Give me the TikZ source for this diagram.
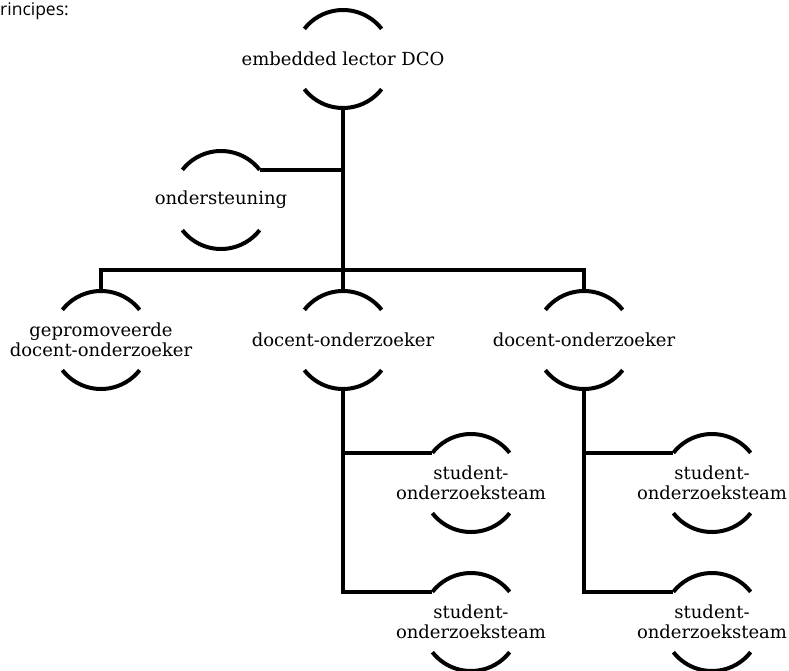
\documentclass[tikz,border=0pt]{standalone}
\usepackage{fontspec}
\setmainfont{DejaVu Serif}
\newfontfamily\hdrfont{Open Sans}
\begin{document}
\begin{tikzpicture}[x=1pt,y=1pt,
  unit/.style={inner sep=0pt, outer sep=0pt, align=center, font=\fontsize{18}{20}\selectfont},
  arcline/.style={line width=4pt},
  conn/.style={line width=4.5pt, line join=miter}]
\useasboundingbox (0,0) rectangle (789,-671);
\node[anchor=base west, inner sep=0pt, font=\hdrfont\fontsize{17.5}{20}\selectfont] (hdr) at (0,-16) {rincipes:};
\node[unit] (lector) at (343,-59) {embedded lector DCO};
\node[unit] (ond) at (221,-200) {ondersteuning};
\node[unit] (doc1) at (101,-340) {gepromoveerde\\docent-onderzoeker};
\node[unit] (doc2) at (343,-340) {docent-onderzoeker};
\node[unit] (doc3) at (584,-340) {docent-onderzoeker};
\node[unit] (s11) at (471,-483) {student-\\onderzoeksteam};
\node[unit] (s12) at (471,-622) {student-\\onderzoeksteam};
\node[unit] (s21) at (712,-483) {student-\\onderzoeksteam};
\node[unit] (s22) at (712,-622) {student-\\onderzoeksteam};
\foreach \n in {lector,ond,doc1,doc2,doc3,s11,s12,s21,s22}{
  \coordinate (\n-top) at ([yshift=49pt]\n.center);
  \coordinate (\n-bot) at ([yshift=-49pt]\n.center);
  \coordinate (\n-tl) at ([shift={(142:49pt)}]\n.center);
  \coordinate (\n-tr) at ([shift={(38:49pt)}]\n.center);
  \draw[arcline] (\n-tr) arc (38:142:49pt);
  \draw[arcline] ([shift={(218:49pt)}]\n.center) arc (218:322:49pt);
}
\coordinate (bar) at (343,-270);
\draw[conn] (lector-bot) -- (doc2-top);
\draw[conn] (ond-tr) -- (ond-tr -| lector.center);
\draw[conn] (doc1-top) -- (doc1-top |- bar) -- (doc3-top |- bar) -- (doc3-top);
\draw[conn] (doc2-bot) |- (s12-tl);
\draw[conn] (doc2-bot |- s11-tl) -- (s11-tl);
\draw[conn] (doc3-bot) |- (s22-tl);
\draw[conn] (doc3-bot |- s21-tl) -- (s21-tl);
\end{tikzpicture}
\end{document}
